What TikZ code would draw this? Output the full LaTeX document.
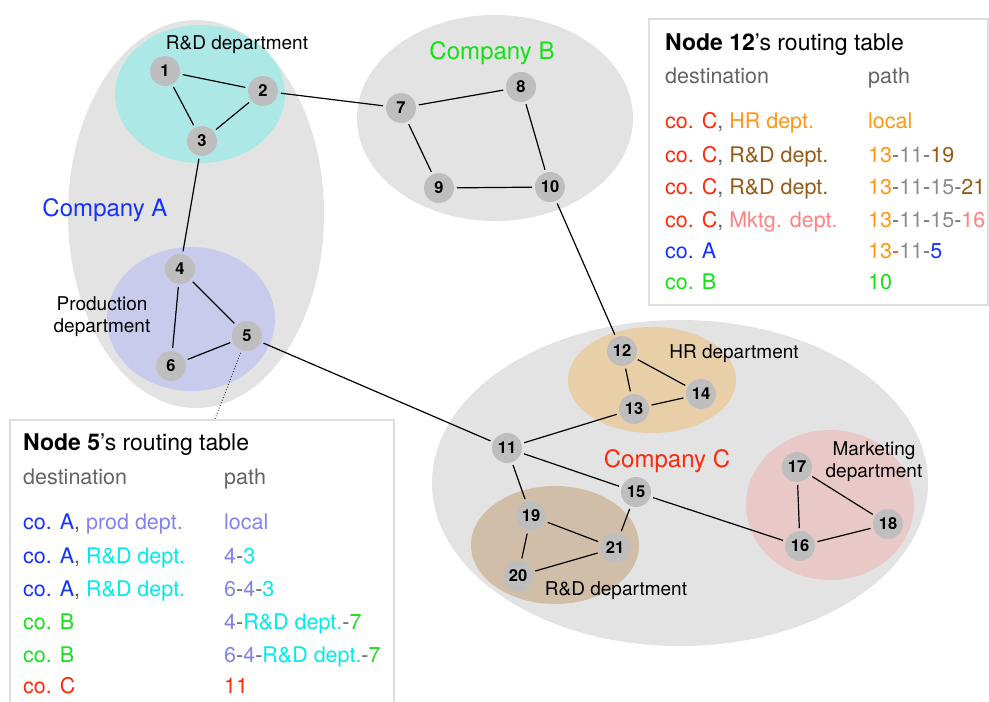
\documentclass[tikz,border=0pt]{standalone}
\usepackage{fontspec}
\setmainfont{TeX Gyre Heros}
\usetikzlibrary{calc}

\definecolor{bggray}{RGB}{227,227,227}
\definecolor{nodegray}{RGB}{190,190,190}
\definecolor{rdafill}{RGB}{172,232,230}
\definecolor{prodfill}{RGB}{200,203,235}
\definecolor{hrfill}{RGB}{232,207,168}
\definecolor{rdcfill}{RGB}{208,190,168}
\definecolor{mkfill}{RGB}{233,200,200}
\definecolor{compA}{RGB}{20,50,255}
\definecolor{compB}{RGB}{20,225,20}
\definecolor{compC}{RGB}{255,40,10}
\definecolor{hrc}{RGB}{255,150,20}
\definecolor{rdc}{RGB}{150,90,20}
\definecolor{mkc}{RGB}{255,130,130}
\definecolor{pathgray}{RGB}{140,140,140}
\definecolor{prodc}{RGB}{130,130,240}
\definecolor{rdac}{RGB}{0,235,235}
\definecolor{hdrgray}{RGB}{100,100,100}
\definecolor{sepgray}{RGB}{90,90,90}
\definecolor{boxline}{RGB}{222,222,222}

\newcommand{\sep}{\textcolor{sepgray}{-}}
\newcommand{\cm}{\textcolor{sepgray}{,} }

\tikzset{
  nd/.style={circle, fill=nodegray, minimum size=30pt, inner sep=0pt, outer sep=3pt,
             font=\bfseries\fontsize{16.5}{16.5}\selectfont},
  link/.style={line width=1.2pt},
  deptlabel/.style={anchor=base, font=\fontsize{19}{22}\selectfont, inner sep=0pt},
  complabel/.style={anchor=base, font=\fontsize{24}{24}\selectfont, inner sep=0pt},
  tabtext/.style={anchor=base west, inner sep=0pt, font=\fontsize{21.5}{21.5}\selectfont},
  tabtitle/.style={anchor=base west, inner sep=0pt, font=\fontsize{23}{23}\selectfont},
  tabbox/.style={draw=boxline, line width=1.2pt, fill=white},
}

\begin{document}
\begin{tikzpicture}[x=1pt,y=-1pt]
\clip (0,0) rectangle (989,702);
\fill[white] (0,0) rectangle (989,702);

% companies
\fill[bggray] (196,214) ellipse [x radius=128, y radius=194];
\fill[bggray] (495,118) ellipse [x radius=138, y radius=103];
\fill[bggray] (680,483) ellipse [x radius=248, y radius=163];

% departments
\fill[rdafill]  (200,94)  ellipse [x radius=85, y radius=69];
\fill[prodfill] (191,319) ellipse [x radius=84, y radius=72];
\fill[hrfill]   (652,380) ellipse [x radius=84, y radius=53];
\fill[rdcfill]  (555,545) ellipse [x radius=84, y radius=59];
\fill[mkfill]   (830,505) ellipse [x radius=84, y radius=75];

% labels (multi-line labels are anchored on their last line)
\node[deptlabel] (lrda) at (237,49) {R\&D department};
\node[complabel, text=compA] (lca) at (105,216) {Company A};
\node[complabel, text=compB] (lcb) at (492,59) {Company B};
\node[complabel, text=compC] (lcc) at (667,467) {Company C};
\node[deptlabel, align=center] (lprod) at (102,332) {Production\\department};
\node[deptlabel] (lhr) at (734,358) {HR department};
\node[deptlabel, align=center] (lmk) at (874,477) {Marketing\\department};
\node[deptlabel] (lrdc) at (616,595) {R\&D department};

% routers
\node[nd] (n1)  at (165,71)  {1};
\node[nd] (n2)  at (263,91)  {2};
\node[nd] (n3)  at (202,141) {3};
\node[nd] (n4)  at (180,269) {4};
\node[nd] (n5)  at (247,336) {5};
\node[nd] (n6)  at (171,366) {6};
\node[nd] (n7)  at (401,108) {7};
\node[nd] (n8)  at (521,87)  {8};
\node[nd] (n9)  at (439,188) {9};
\node[nd] (n10) at (550,187) {10};
\node[nd] (n11) at (507,448) {11};
\node[nd] (n12) at (622,351) {12};
\node[nd] (n13) at (634,409) {13};
\node[nd] (n14) at (701,394) {14};
\node[nd] (n15) at (636,492) {15};
\node[nd] (n16) at (800,546) {16};
\node[nd] (n17) at (797,467) {17};
\node[nd] (n18) at (888,524) {18};
\node[nd] (n19) at (531,516) {19};
\node[nd] (n20) at (518,576) {20};
\node[nd] (n21) at (615,548) {21};

% links
\foreach \a/\b in {1/2,1/3,2/3,3/4,4/5,4/6,5/6,2/7,7/8,7/9,9/10,8/10,10/12,5/11,
                   11/13,12/13,12/14,13/14,11/19,11/15,15/21,15/16,19/21,19/20,20/21,
                   16/17,17/18,16/18}
  \draw[link] (n\a) -- (n\b);

% routing table of node 12
\draw[tabbox] (649,19) rectangle (988,305);
\node[tabtitle] (t12title) at (665,50) {\textbf{Node 12}’s routing table};
\node[tabtext, text=hdrgray] (t12d) at (665,83) {destination};
\node[tabtext, text=hdrgray] (t12p) at (868,83) {path};
\node[tabtext] at (665,128) {\textcolor{compC}{co. C}\cm\textcolor{hrc}{HR dept.}};
\node[tabtext] at (868,128) {\textcolor{hrc}{local}};
\node[tabtext] at (665,162) {\textcolor{compC}{co. C}\cm\textcolor{rdc}{R\&D dept.}};
\node[tabtext] at (868,162) {\textcolor{hrc}{13}\sep\textcolor{pathgray}{11}\sep\textcolor{rdc}{19}};
\node[tabtext] at (665,194) {\textcolor{compC}{co. C}\cm\textcolor{rdc}{R\&D dept.}};
\node[tabtext] at (868,194) {\textcolor{hrc}{13}\sep\textcolor{pathgray}{11}\sep\textcolor{pathgray}{15}\sep\textcolor{rdc}{21}};
\node[tabtext] at (665,227) {\textcolor{compC}{co. C}\cm\textcolor{mkc}{Mktg. dept.}};
\node[tabtext] at (868,227) {\textcolor{hrc}{13}\sep\textcolor{pathgray}{11}\sep\textcolor{pathgray}{15}\sep\textcolor{mkc}{16}};
\node[tabtext] at (665,258) {\textcolor{compA}{co. A}};
\node[tabtext] at (868,258) {\textcolor{hrc}{13}\textcolor{compC}{-}\textcolor{pathgray}{11}\sep\textcolor{compA}{5}};
\node[tabtext] at (665,289) {\textcolor{compB}{co. B}};
\node[tabtext] at (868,289) {\textcolor{compB}{10}};

% routing table of node 5
\draw[tabbox] (10,420) rectangle (394,720);
\coordinate (t5top) at (215,419);
\draw[dotted, line width=0.8pt] (n5) -- (t5top);
\node[tabtitle] (t5title) at (23,450) {\textbf{Node 5}’s routing table};
\node[tabtext, text=hdrgray] (t5d) at (23,484) {destination};
\node[tabtext, text=hdrgray] (t5p) at (224,484) {path};
\node[tabtext] at (23,529) {\textcolor{compA}{co. A}\cm\textcolor{prodc}{prod dept.}};
\node[tabtext] at (224,529) {\textcolor{prodc}{local}};
\node[tabtext] at (23,563) {\textcolor{compA}{co. A}\cm\textcolor{rdac}{R\&D dept.}};
\node[tabtext] at (224,563) {\textcolor{prodc}{4}\sep\textcolor{rdac}{3}};
\node[tabtext] at (23,596) {\textcolor{compA}{co. A}\cm\textcolor{rdac}{R\&D dept.}};
\node[tabtext] at (224,596) {\textcolor{prodc}{6}\sep\textcolor{prodc}{4}\sep\textcolor{rdac}{3}};
\node[tabtext] at (23,629) {\textcolor{compB}{co. B}};
\node[tabtext] at (224,629) {\textcolor{prodc}{4}\sep\textcolor{rdac}{R\&D dept.}\sep\textcolor{compB}{7}};
\node[tabtext] at (23,662) {\textcolor{compB}{co. B}};
\node[tabtext] at (224,662) {\textcolor{prodc}{6}\sep\textcolor{prodc}{4}\sep\textcolor{rdac}{R\&D dept.}\sep\textcolor{compB}{7}};
\node[tabtext] at (23,693) {\textcolor{compC}{co. C}};
\node[tabtext] at (224,693) {\textcolor{compC}{11}};
\end{tikzpicture}
\end{document}
